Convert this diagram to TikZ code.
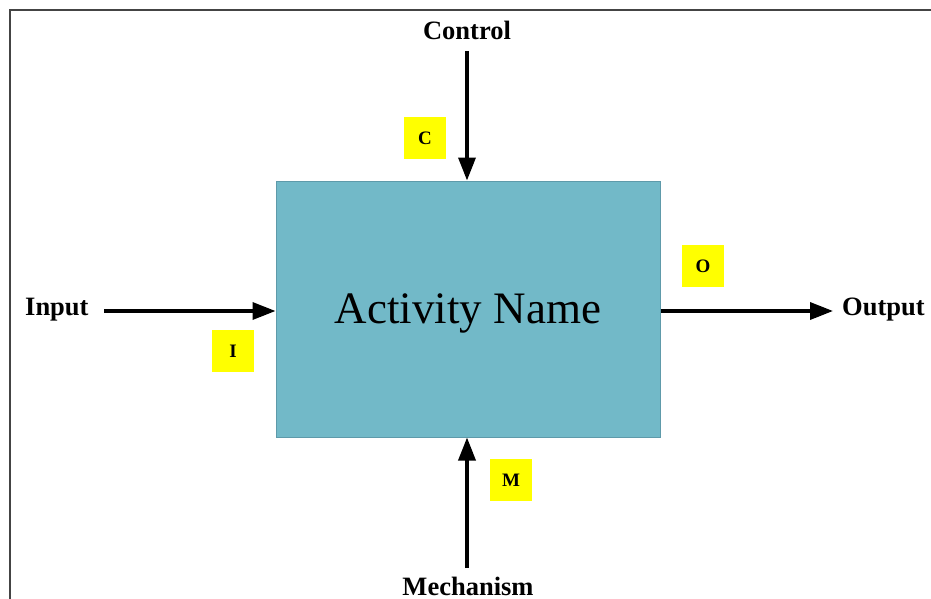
\documentclass[tikz,border=0pt]{standalone}
\usepackage{fontspec}
\setmainfont{Liberation Serif}
\usetikzlibrary{arrows.meta}
\definecolor{boxfill}{HTML}{72B9C8}
\definecolor{boxline}{HTML}{5E9AAA}
\definecolor{tagfill}{HTML}{FFFF00}
\definecolor{frameline}{HTML}{444444}
\begin{document}
\begin{tikzpicture}[x=1pt,y=-1pt,
  flow/.style={line width=3.6pt,-{Triangle[length=23pt,width=17pt]}},
  flowlabel/.style={font=\fontsize{26.5}{30}\selectfont\bfseries,inner sep=0pt},
  tag/.style={fill=tagfill,minimum width=42pt,minimum height=42pt,inner sep=0pt,
    font=\fontsize{19}{21}\selectfont\bfseries}]
  \useasboundingbox (0,0) rectangle (931,599);
  % outer frame (top and left edges)
  \draw[frameline,line width=2pt] (10,599) -- (10,10) -- (931,10);
  % activity box
  \node[draw=boxline,fill=boxfill,line width=1pt,minimum width=384pt,minimum height=256pt,
    inner sep=0pt] (act) at (468,309) {};
  \node[font=\fontsize{45}{50}\selectfont,inner sep=0pt] (actname) at (468,313) {Activity Name};
  % ICOM labels
  \node[flowlabel] (ctl) at (467,30) {Control};
  \node[flowlabel,anchor=west] (inp) at (25,310) {Input};
  \node[flowlabel,anchor=west] (out) at (842,310) {Output};
  \node[flowlabel] (mech) at (468,586) {Mechanism};
  \coordinate (ctltail) at (467,51);
  \coordinate (inptail) at (104,311);
  \coordinate (outhead) at (833,311);
  \coordinate (mechtail) at (467,568);
  % arrows
  \draw[flow] (ctltail) -- (ctltail |- act.north);
  \draw[flow] (inptail) -- (inptail -| act.west);
  \draw[flow] (outhead -| act.east) -- (outhead);
  \draw[flow] (mechtail) -- (mechtail |- act.south);
  % letter tags
  \node[tag] (tc) at (425,138) {C};
  \node[tag] (ti) at (233,351) {I};
  \node[tag] (to) at (703,266) {O};
  \node[tag] (tm) at (511,480) {M};
\end{tikzpicture}
\end{document}
